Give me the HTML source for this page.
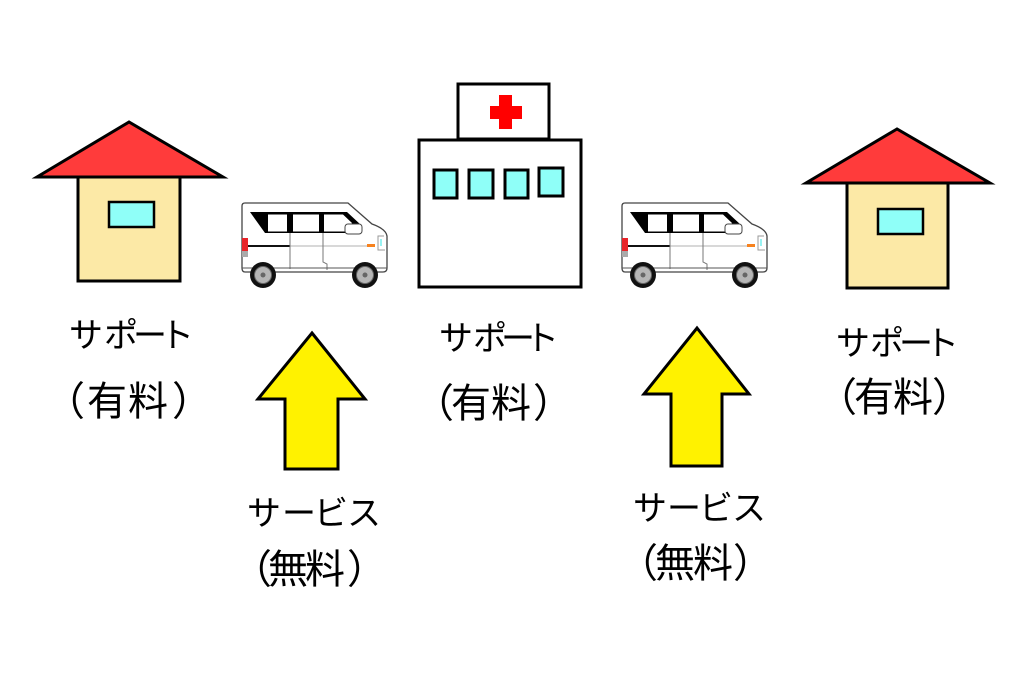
<!DOCTYPE html>
<html><head><meta charset="utf-8"><style>
html,body{margin:0;padding:0;background:#fff;}
svg{display:block;}
text{font-family:"Liberation Sans","Noto Sans CJK JP",sans-serif;fill:#000;}
.k{font-size:34px;}
.j{font-size:40px;}
</style></head><body>
<svg width="1024" height="683" viewBox="0 0 1024 683" xmlns="http://www.w3.org/2000/svg">
<defs>
<g id="van">
  <path d="M242,206 Q242,203 245,203 L348,203 L372,224 Q386,229 387,236 L387,268 Q387,272 383,272 L245,272 Q242,272 242,268 Z" fill="#fff" stroke="#444" stroke-width="1.3"/>
  <polygon points="250,212 347,212 361,225 345,233 265,233" fill="#000"/>
  <rect x="268" y="214.5" width="19" height="17" fill="#fff"/>
  <rect x="293" y="214.5" width="26" height="17" fill="#fff"/>
  <polygon points="324,214.5 343,214.5 352,223 345,231.5 324,231.5" fill="#fff"/>
  <rect x="345" y="224" width="17" height="10" rx="3" fill="#fff" stroke="#444" stroke-width="1"/>
  <rect x="242" y="238" width="6" height="13" fill="#e8252a"/>
  <rect x="242" y="251" width="6" height="6" fill="#aaa"/>
  <line x1="248" y1="246" x2="290" y2="246" stroke="#111" stroke-width="2"/>
  <line x1="290" y1="246" x2="368" y2="246" stroke="#ccc" stroke-width="1.5"/>
  <line x1="290" y1="233" x2="290" y2="269" stroke="#777" stroke-width="1"/>
  <path d="M323,233 L323,262 L327,264 L327,270" fill="none" stroke="#777" stroke-width="1"/>
  <rect x="367" y="244" width="8" height="3" fill="#f7821e"/>
  <path d="M384,236 L378,236 L378,250 L385,250" fill="none" stroke="#999" stroke-width="1"/>
  <path d="M381,239 L381,246" stroke="#7ee" stroke-width="1.5"/>
  <line x1="242" y1="268" x2="387" y2="268" stroke="#555" stroke-width="1"/>
  <circle cx="263" cy="275" r="13" fill="#111"/>
  <circle cx="263" cy="275" r="8.5" fill="#b5b5b5" stroke="#666" stroke-width="1"/>
  <circle cx="263" cy="275" r="2.5" fill="#666"/>
  <circle cx="365" cy="275" r="13" fill="#111"/>
  <circle cx="365" cy="275" r="8.5" fill="#b5b5b5" stroke="#666" stroke-width="1"/>
  <circle cx="365" cy="275" r="2.5" fill="#666"/>
</g>
</defs>

<!-- Left house -->
<polygon points="129,122 37,177 223,177" fill="#ff3b3b" stroke="#000" stroke-width="3"/>
<rect x="78" y="177" width="102" height="104" fill="#fce9a6" stroke="#000" stroke-width="3"/>
<rect x="109" y="202" width="45" height="25" fill="#8ffff8" stroke="#000" stroke-width="2.5"/>

<!-- Right house -->
<polygon points="897,129 806,183 990,183" fill="#ff3b3b" stroke="#000" stroke-width="3"/>
<rect x="847" y="183" width="101" height="105" fill="#fce9a6" stroke="#000" stroke-width="3"/>
<rect x="878" y="209" width="45" height="25" fill="#8ffff8" stroke="#000" stroke-width="2.5"/>

<!-- Hospital -->
<rect x="458" y="84" width="91" height="55" fill="#fff" stroke="#000" stroke-width="3"/>
<rect x="490" y="106" width="32" height="13" fill="#ff0000"/>
<rect x="499" y="95" width="13" height="34" fill="#ff0000"/>
<rect x="419" y="140" width="162" height="147" fill="#fff" stroke="#000" stroke-width="3"/>
<rect x="434" y="170" width="23" height="28" fill="#8ffff8" stroke="#000" stroke-width="3"/>
<rect x="469" y="170" width="24" height="28" fill="#8ffff8" stroke="#000" stroke-width="3"/>
<rect x="505" y="170" width="23" height="28" fill="#8ffff8" stroke="#000" stroke-width="3"/>
<rect x="539" y="168" width="24" height="28" fill="#8ffff8" stroke="#000" stroke-width="3"/>

<!-- Vans -->
<use href="#van"/>
<use href="#van" transform="translate(380,0)"/>

<!-- Arrows -->
<polygon points="312,333 365,399 338,399 338,469 285,469 285,399 258,399" fill="#fff200" stroke="#000" stroke-width="3"/>
<polygon points="697,328 749,394 722,394 722,466 671,466 671,394 644,394" fill="#fff200" stroke="#000" stroke-width="3"/>

<!-- Labels -->
<text class="k" text-anchor="middle" x="86 121 150 177" y="347">サポート</text>
<text class="j" text-anchor="middle" x="65 107 148 192" y="415">（有料）</text>

<text class="k" text-anchor="middle" x="456 490 518 542" y="350">サポート</text>
<text class="j" text-anchor="middle" x="434 471 511 553" y="417">（有料）</text>

<text class="k" text-anchor="middle" x="853 887 916 942" y="355">サポート</text>
<text class="j" text-anchor="middle" x="837 874 913 952" y="411">（有料）</text>

<text class="k" text-anchor="middle" x="264 299 331 364" y="525">サービス</text>
<text class="j" text-anchor="middle" x="252 288 325 367" y="583">（無料）</text>

<text class="k" text-anchor="middle" x="650 684 716 749" y="520">サービス</text>
<text class="j" text-anchor="middle" x="638 675 713 753" y="577">（無料）</text>
</svg>
</body></html>
